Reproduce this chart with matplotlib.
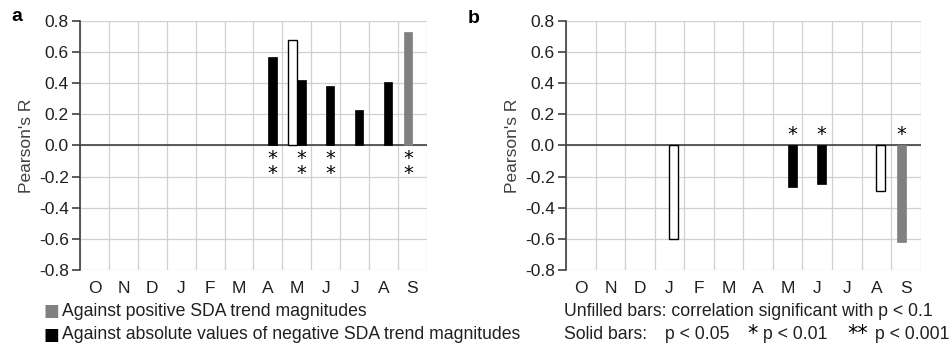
import numpy as np
import matplotlib.pyplot as plt

plt.rcParams['font.family'] = ['Liberation Sans', 'DejaVu Sans']

months = ['O', 'N', 'D', 'J', 'F', 'M', 'A', 'M', 'J', 'J', 'A', 'S']
yticks = [-0.8, -0.6, -0.4, -0.2, 0.0, 0.2, 0.4, 0.6, 0.8]
ylabels = ['-0.8', '-0.6', '-0.4', '-0.2', '0.0', '0.2', '0.4', '0.6', '0.8']

# panel a: left slot = positive SDA trends (grey), right slot = negative SDA trends (black)
pos_a = [np.nan] * 7 + [0.68, np.nan, np.nan, np.nan, 0.73]
neg_a = [np.nan] * 6 + [0.57, 0.42, 0.38, 0.23, 0.41, np.nan]
# significance: 0 = p<0.1 (unfilled), 1 = p<0.05, 2 = p<0.01, 3 = p<0.001
sig_pos_a = [0] * 7 + [0, 0, 0, 0, 3]
sig_neg_a = [0] * 6 + [3, 3, 3, 1, 1, 0]

# panel b
pos_b = [np.nan] * 11 + [-0.62]
neg_b = [np.nan, np.nan, np.nan, -0.60, np.nan, np.nan, np.nan, -0.27, -0.25, np.nan, -0.29, np.nan]
sig_pos_b = [0] * 11 + [2]
sig_neg_b = [0, 0, 0, 0, 0, 0, 0, 2, 2, 0, 0, 0]

GREY = '#808080'
TXT = '#202020'
W = 0.3


def draw_bars(ax, vals, sigs, offset, color):
    x = np.arange(len(vals))
    for i, (v, s) in enumerate(zip(vals, sigs)):
        if np.isnan(v):
            continue
        if s == 0:
            ax.bar(x[i] + offset, v, W, color='white', edgecolor='black', linewidth=1.0, zorder=3)
        else:
            ax.bar(x[i] + offset, v, W, color=color, edgecolor=color, linewidth=0.5, zorder=3)
        if s >= 2:
            stars = '\n'.join(['*'] * (s - 1))
            if v > 0:
                ax.text(x[i] + offset, -0.02, stars, ha='center', va='top', fontsize=14,
                        linespacing=0.75, family='DejaVu Sans')
            else:
                ax.text(x[i] + offset, 0.01, stars, ha='center', va='bottom', fontsize=14,
                        family='DejaVu Sans')


def setup_axes(ax):
    ax.set_xlim(-0.5, 11.5)
    ax.set_ylim(-0.8, 0.8)
    ax.set_yticks(yticks)
    ax.set_yticklabels(ylabels)
    ax.set_xticks(np.arange(12))
    ax.set_xticklabels(months)
    ax.set_xticks(np.arange(-0.5, 12, 1), minor=True)
    ax.tick_params(axis='x', which='both', length=0, labelsize=12.5, pad=8, labelcolor=TXT)
    ax.tick_params(axis='y', length=6, width=1.2, color='#404040', labelsize=12.5, labelcolor=TXT, pad=2)
    ax.grid(True, which='minor', axis='x', color='#d0d0d0', linewidth=0.9, zorder=0)
    ax.grid(True, which='major', axis='y', color='#d0d0d0', linewidth=0.9, zorder=0)
    for s in ['top', 'right', 'bottom']:
        ax.spines[s].set_visible(False)
    ax.spines['left'].set_color('#404040')
    ax.spines['left'].set_linewidth(1.2)
    ax.axhline(0, color='#404040', linewidth=1.2, zorder=2)
    ax.set_ylabel("Pearson's R", fontsize=12.5, color='#404040', labelpad=4)


fig = plt.figure(figsize=(9.53, 3.51), dpi=100)
ax_a = fig.add_axes([0.084, 0.231, 0.364, 0.709])
ax_b = fig.add_axes([0.594, 0.231, 0.372, 0.709])

for ax in (ax_a, ax_b):
    setup_axes(ax)

draw_bars(ax_a, pos_a, sig_pos_a, -W / 2, GREY)
draw_bars(ax_a, neg_a, sig_neg_a, W / 2, 'black')
draw_bars(ax_b, pos_b, sig_pos_b, -W / 2, GREY)
draw_bars(ax_b, neg_b, sig_neg_b, W / 2, 'black')

fig.text(0.018, 0.953, 'a', fontsize=14, fontweight='bold', va='center', ha='center')
fig.text(0.497, 0.948, 'b', fontsize=14, fontweight='bold', va='center', ha='center')

# legend below panel a
fs = 12.7
y1, y2 = 0.113, 0.046
fig.text(0.046, y1, '\u25A0', fontsize=12, color=GREY, va='center', family='DejaVu Sans')
fig.text(0.065, y1, 'Against positive SDA trend magnitudes', fontsize=fs, va='center', color=TXT)
fig.text(0.046, y2, '\u25A0', fontsize=12, color='black', va='center', family='DejaVu Sans')
fig.text(0.065, y2, 'Against absolute values of negative SDA trend magnitudes', fontsize=fs,
         va='center', color=TXT)

# significance notes below panel b
fig.text(0.592, y1, 'Unfilled bars: correlation significant with p < 0.1', fontsize=fs,
         va='center', color=TXT)
fig.text(0.592, y2, 'Solid bars:', fontsize=fs, va='center', color=TXT)
fig.text(0.698, y2, 'p < 0.05', fontsize=fs, va='center', color=TXT)
fig.text(0.784, y2 + 0.002, '*', fontsize=15, va='center', family='DejaVu Sans')
fig.text(0.801, y2, 'p < 0.01', fontsize=fs, va='center', color=TXT)
fig.text(0.889, y2 + 0.002, '**', fontsize=15, va='center', family='DejaVu Sans')
fig.text(0.918, y2, 'p < 0.001', fontsize=fs, va='center', color=TXT)

fig.savefig('out.png', dpi=100)
